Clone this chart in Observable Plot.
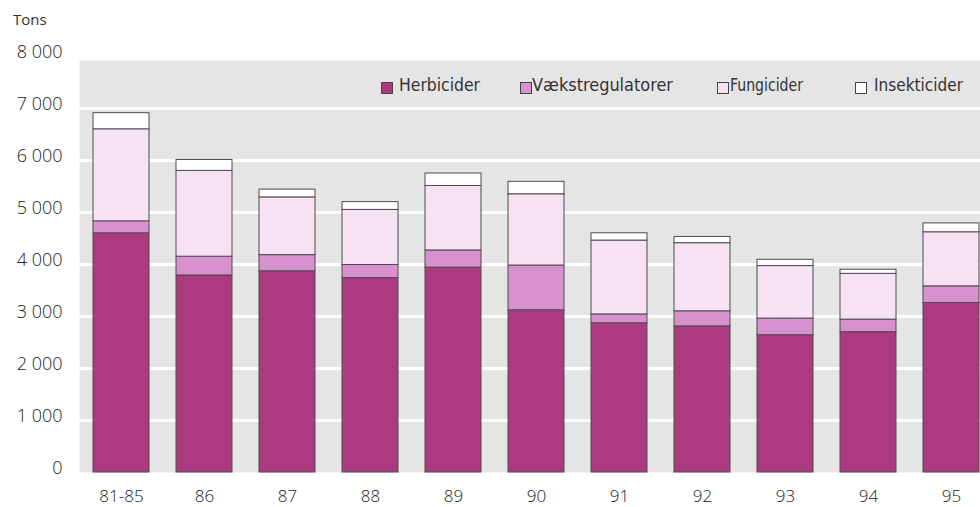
<!DOCTYPE html>
<html><head><meta charset="utf-8">
<script src="https://cdn.jsdelivr.net/npm/d3@7"></script>
<script src="https://cdn.jsdelivr.net/npm/@observablehq/plot@0.6"></script>
<style>
body{margin:0;background:#fff;}
#wrap{position:relative;width:980px;height:507px;overflow:hidden;}
#chart svg{display:block;}
#ylab{position:absolute;left:13px;top:9px;font-family:"Open Sans",sans-serif;font-weight:400;font-size:15px;color:#333;}
#legend{position:absolute;left:0;top:0;pointer-events:none;}
</style></head><body>
<div id="wrap"><div id="chart"></div><div id="ylab">Tons</div><svg id="legend" width="980" height="110"></svg></div>
<script>
// Periods (x categories)
const periods = ["81-85","86","87","88","89","90","91","92","93","94","95"];
// Series values, tons (stacked segments)
const herbicider     = [4600, 3790, 3870, 3740, 3940, 3120, 2870, 2810, 2640, 2700, 3260];
const vaekstreg      = [ 230,  360,  310,  250,  330,  860,  170,  290,  320,  240,  320];
const fungicider     = [1770, 1650, 1110, 1060, 1240, 1370, 1420, 1310, 1010,  880, 1040];
const insekticider   = [ 310,  210,  150,  150,  240,  240,  140,  120,  120,   80,  170];
// Series names and colours
const seriesNames = ["Herbicider","Vækstregulatorer","Fungicider","Insekticider"];
const seriesColors = ["#ab3a80","#d891cf","#f7e2f3","#ffffff"];
// Axis ticks
const yTicks = [0,1000,2000,3000,4000,5000,6000,7000,8000];
const gridTicks = [1000,2000,3000,4000,5000,6000,7000];

const seriesValues = [herbicider, vaekstreg, fungicider, insekticider];
const data = seriesNames.flatMap((s,i)=>periods.map((p,j)=>({period:p, type:s, value:seriesValues[i][j]})));

const fmt = d => d3.format(",")(d).replace(/,/g, " ");

const chart = Plot.plot({
  width: 980,
  height: 507,
  marginLeft: 79,
  marginRight: 0,
  marginTop: 56,
  marginBottom: 35,
  style: {fontFamily: "'Open Sans', sans-serif", fontSize: "18px", fontWeight: 300, color: "#222", background: "#fff"},
  x: {domain: periods, range: [91, 980], paddingInner: 0.33, paddingOuter: 0},
  y: {domain: [0, 8000]},
  color: {domain: seriesNames, range: seriesColors},
  marks: [
    Plot.frame({fill: "#e5e5e6", stroke: "none", insetTop: 4}),
    Plot.gridY(gridTicks, {stroke: "#fff", strokeOpacity: 1, strokeWidth: 3}),
    Plot.barY(data, {x: "period", y: "value", fill: "type", order: seriesNames, stroke: "#4d4d4d", strokeWidth: 1}),
    Plot.axisY(yTicks, {tickSize: 0, tickPadding: 17, tickFormat: fmt, dy: -4, label: null, fontSize: 18}),
    Plot.axisX({tickSize: 0, tickPadding: 17, label: null, fontSize: 17})
  ]
});
document.getElementById("chart").appendChild(chart);

// Legend (inside plot area, top right)
const legendLayout = [
  {sx: 381, tx: 399, tw: 81},
  {sx: 520, tx: 532, tw: 141},
  {sx: 717, tx: 730, tw: 73},
  {sx: 855, tx: 874, tw: 89}
];
const leg = d3.select("#legend");
seriesNames.forEach((name, i) => {
  const L = legendLayout[i];
  leg.append("rect").attr("x", L.sx + 0.5).attr("y", 82.5).attr("width", 11).attr("height", 11)
    .attr("fill", seriesColors[i]).attr("stroke", "#444").attr("stroke-width", 1);
  leg.append("text").attr("x", L.tx).attr("y", 91)
    .attr("textLength", L.tw).attr("lengthAdjust", "spacingAndGlyphs")
    .attr("font-family", "'DejaVu Sans', sans-serif").attr("font-stretch", "condensed")
    .attr("font-size", 18).attr("fill", "#333").text(name);
});
</script>
</body></html>
